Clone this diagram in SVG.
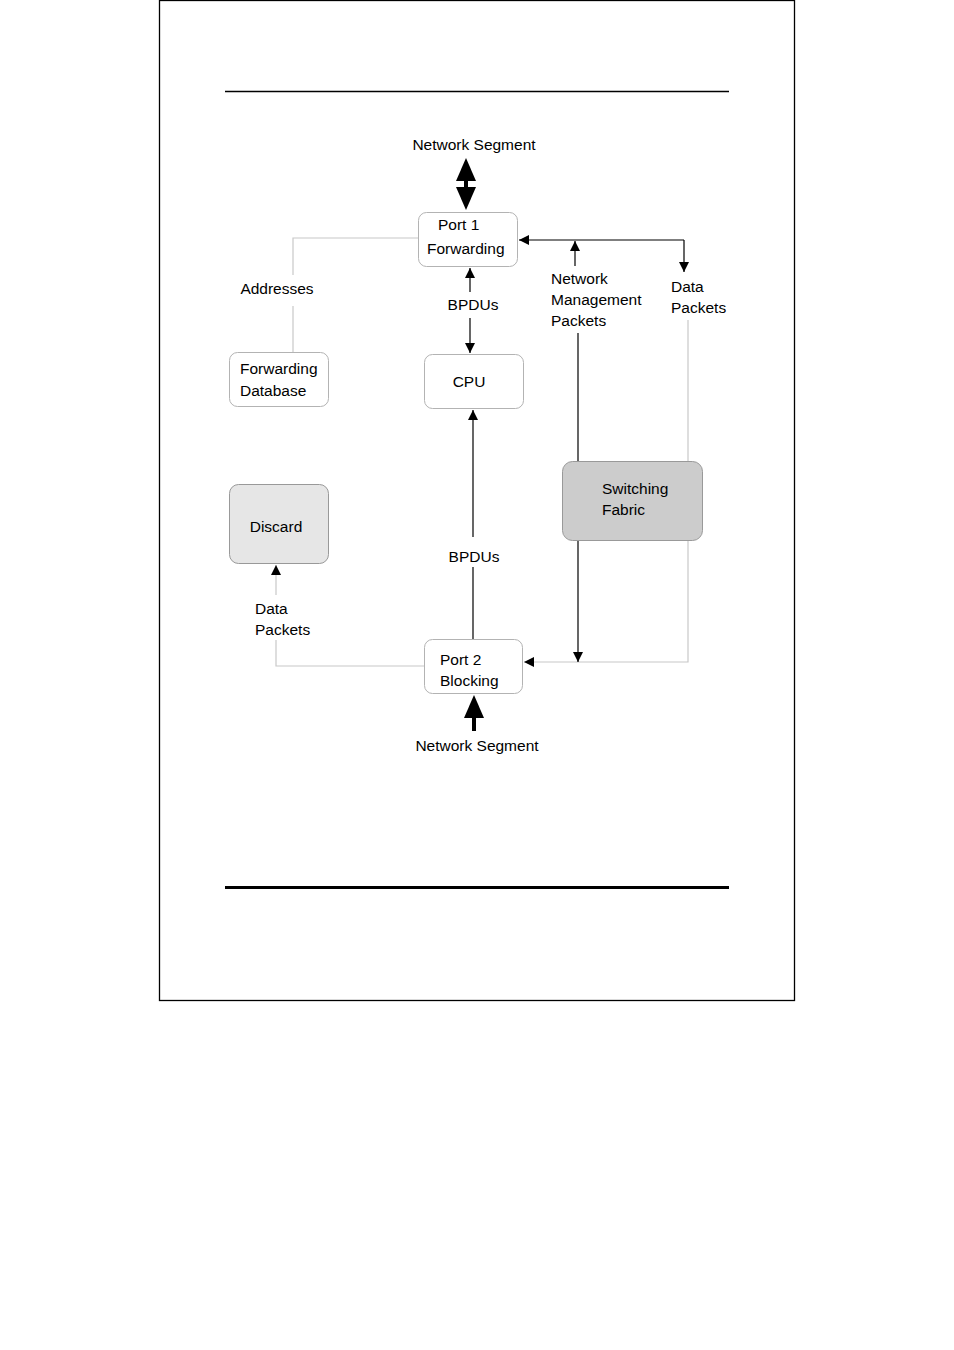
<svg xmlns="http://www.w3.org/2000/svg" width="954" height="1350" viewBox="0 0 954 1350">
<style>
text{font-family:"Liberation Sans",Arial,sans-serif;font-size:15.5px;fill:#000}
.node{fill:#fff;stroke:#b3b3b3;stroke-width:1}
.blk{fill:none;stroke:#000;stroke-width:1.2}
.gry{fill:none;stroke:#c8c8c8;stroke-width:1.2}
.thick{fill:none;stroke:#000;stroke-width:4}
.head{fill:#000}
</style>
<defs>
<marker id="ah" viewBox="0 0 10 10" refX="10" refY="5" markerWidth="10" markerHeight="10" markerUnits="userSpaceOnUse" orient="auto"><path d="M0,0 L10,5 L0,10 z" fill="#000"/></marker>
</defs>
<rect width="954" height="1350" fill="#fff"/>
<g id="page">
<rect x="159.5" y="0.5" width="635" height="1000" fill="none" stroke="#000" stroke-width="1.3"/>
<line x1="225" y1="91.5" x2="729" y2="91.5" stroke="#000" stroke-width="1.3"/>
<line x1="225" y1="887.5" x2="729" y2="887.5" stroke="#000" stroke-width="3"/>
</g>
<g id="connectors">
<path class="thick" d="M466,176 L466,192"/>
<path class="head" d="M466,158 L476,181 L456,181 z"/>
<path class="head" d="M466,210 L476,187 L456,187 z"/>
<path class="gry" d="M418,238 L293,238 L293,275"/>
<path class="gry" d="M293,306 L293,352"/>
<path class="blk" d="M470,292 L470,268" marker-end="url(#ah)"/>
<path class="blk" d="M470,318 L470,353" marker-end="url(#ah)"/>
<path class="blk" d="M578,461 L578,333"/>
<path class="blk" d="M575,266 L575,241" marker-end="url(#ah)"/>
<path class="blk" d="M684,240 L519,240" marker-end="url(#ah)"/>
<path class="blk" d="M684,240 L684,272" marker-end="url(#ah)"/>
<path class="gry" d="M688,320 L688,662 L524,662" marker-end="url(#ah)"/>
<path class="blk" d="M578,540 L578,662" marker-end="url(#ah)"/>
<path class="blk" d="M473,639 L473,567"/>
<path class="blk" d="M473,537 L473,410" marker-end="url(#ah)"/>
<path class="gry" d="M424,666 L276,666 L276,640"/>
<path class="gry" d="M276,595 L276,565" marker-end="url(#ah)"/>
<path class="thick" d="M474,731 L474,712"/>
<path class="head" d="M474,695 L484,718 L464,718 z"/>
<text x="474" y="150" text-anchor="middle">Network Segment</text>
<text x="277" y="294" text-anchor="middle">Addresses</text>
<text x="473" y="310" text-anchor="middle">BPDUs</text>
<text x="551" y="284">Network</text>
<text x="551" y="305">Management</text>
<text x="551" y="326">Packets</text>
<text x="671" y="292">Data</text>
<text x="671" y="313">Packets</text>
<text x="474" y="562" text-anchor="middle">BPDUs</text>
<text x="255" y="614">Data</text>
<text x="255" y="635">Packets</text>
<text x="477" y="751" text-anchor="middle">Network Segment</text>
</g>
<g id="port1">
<rect class="node" x="418.5" y="212.5" width="99" height="54" rx="8"/>
<text x="438" y="230">Port 1</text>
<text x="427" y="254">Forwarding</text>
</g>
<g id="fwddb">
<rect class="node" x="229.5" y="352.5" width="99" height="54" rx="8"/>
<text x="240" y="374">Forwarding</text>
<text x="240" y="396">Database</text>
</g>
<g id="cpu">
<rect class="node" x="424.5" y="354.5" width="99" height="54" rx="8"/>
<text x="469" y="387" text-anchor="middle">CPU</text>
</g>
<g id="discard">
<rect x="229.5" y="484.5" width="99" height="79" rx="9" fill="#e6e6e6" stroke="#999"/>
<text x="276" y="532" text-anchor="middle">Discard</text>
</g>
<g id="fabric">
<rect x="562.5" y="461.5" width="140" height="79" rx="10" fill="#cccccc" stroke="#999"/>
<text x="602" y="494">Switching</text>
<text x="602" y="515">Fabric</text>
</g>
<g id="port2">
<rect class="node" x="424.5" y="639.5" width="98" height="54" rx="8"/>
<text x="440" y="665">Port 2</text>
<text x="440" y="686">Blocking</text>
</g>
</svg>
